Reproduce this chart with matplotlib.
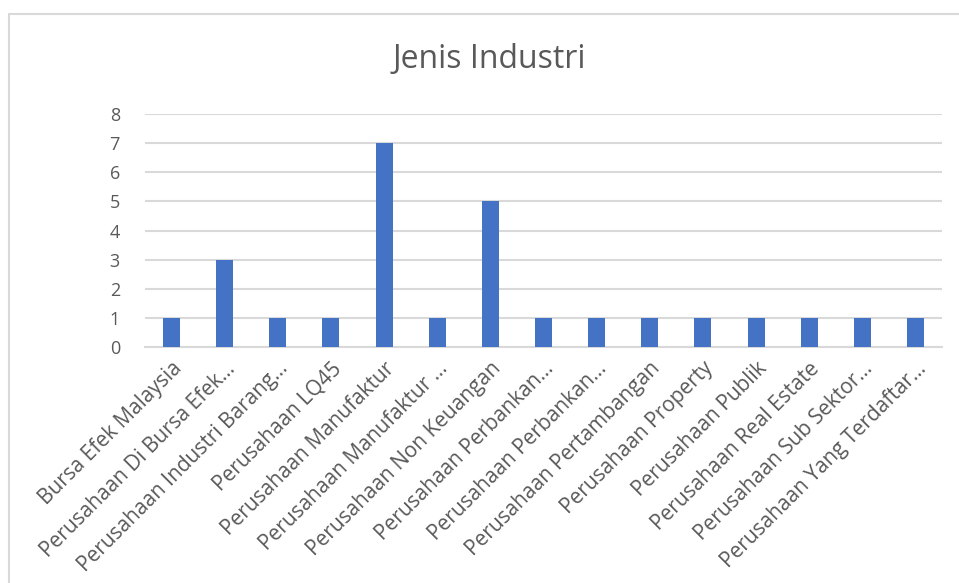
import matplotlib.pyplot as plt
from matplotlib.patches import Rectangle

categories = [
    "Bursa Efek Malaysia",
    "Perusahaan Di Bursa Efek…",
    "Perusahaan Industri Barang…",
    "Perusahaan LQ45",
    "Perusahaan Manufaktur",
    "Perusahaan Manufaktur …",
    "Perusahaan Non Keuangan",
    "Perusahaan Perbankan…",
    "Perusahaan Perbankan…",
    "Perusahaan Pertambangan",
    "Perusahaan Property",
    "Perusahaan Publik",
    "Perusahaan Real Estate",
    "Perusahaan Sub Sektor…",
    "Perusahaan Yang Terdaftar…",
]
values = [1, 3, 1, 1, 7, 1, 5, 1, 1, 1, 1, 1, 1, 1, 1]
yticks = [0, 1, 2, 3, 4, 5, 6, 7, 8]

plt.rcParams["font.family"] = ["Open Sans", "DejaVu Sans"]
txt = "#595959"

fig = plt.figure(figsize=(9.59, 5.83), dpi=100)
# chart border
fig.patches.append(Rectangle((9 / 959, -0.1), 1.2, 1 - 14 / 583 + 0.1,
                             transform=fig.transFigure, fill=False,
                             edgecolor="#d9d9d9", linewidth=1.5))

ax = fig.add_axes([145 / 959, 1 - 347 / 583, 797 / 959, 233 / 583])
x = range(len(categories))
ax.bar(x, values, width=0.32, color="#4472c4", zorder=3)

ax.set_xlim(-0.5, len(categories) - 0.5)
ax.set_ylim(0, 8)
ax.set_yticks(yticks)
ax.yaxis.grid(True, color="#d9d9d9", linewidth=1.5, zorder=0)
ax.set_axisbelow(True)
for s in ["top", "right", "left"]:
    ax.spines[s].set_visible(False)
ax.spines["bottom"].set_color("#d9d9d9")
ax.spines["bottom"].set_linewidth(1.5)
ax.tick_params(axis="both", length=0, colors=txt)
ax.tick_params(axis="y", labelsize=13, pad=18)
ax.set_xticks(list(x))
ax.set_xticklabels(categories, rotation=45, ha="right", rotation_mode="anchor",
                   fontsize=15, color=txt)
ax.tick_params(axis="x", pad=8)

fig.text(489 / 959, 1 - 60 / 583, "Jenis Industri", ha="center", va="center",
         fontsize=23, color=txt)

fig.savefig("out.png", dpi=100)
